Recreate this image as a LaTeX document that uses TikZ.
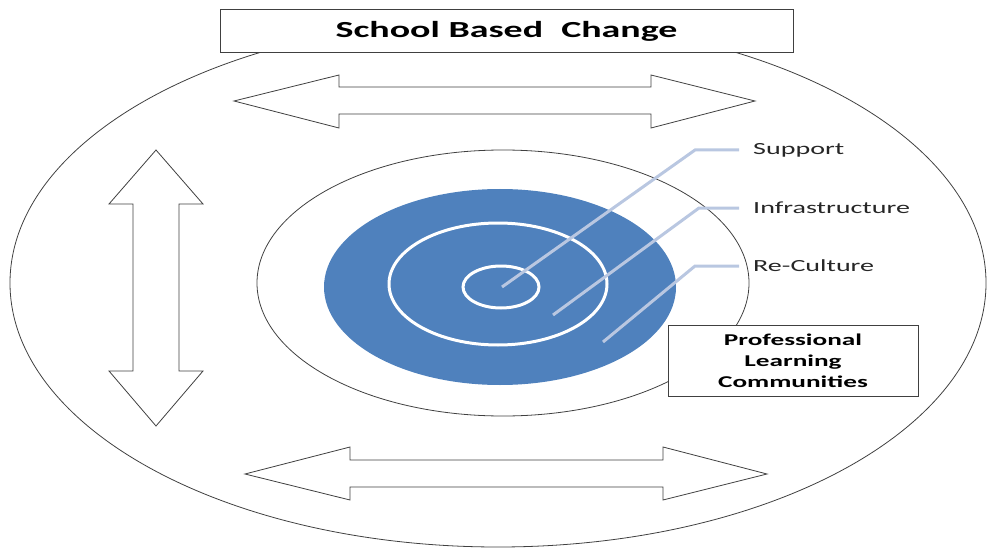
\documentclass[tikz,border=0pt]{standalone}
\usepackage{fontspec}
\setmainfont{Carlito}
\usepackage{tikz}

\definecolor{ringblue}{RGB}{79,129,189}
\definecolor{leadblue}{RGB}{185,199,225}
\definecolor{edgegray}{RGB}{64,64,64}

\newcommand{\widetext}[1]{\scalebox{1.65}[1]{#1}}

\tikzset{
  boxnode/.style={draw=edgegray, line width=1pt, fill=white, inner sep=0pt, align=center},
  fatarrow/.style={draw=edgegray, line width=0.8pt, fill=white, line join=miter},
  leader/.style={draw=leadblue, line width=3pt},
  ringlabel/.style={anchor=west, inner xsep=14pt, inner ysep=0pt, font=\fontsize{17}{20}\selectfont, text=black!85}
}

\begin{document}
\begin{tikzpicture}[x=1pt, y=-1pt]
        \useasboundingbox (0,0) rectangle (987,548);

        % outer ring
        \draw[edgegray, line width=0.8pt] (498,283) ellipse [x radius=488pt, y radius=264pt];

        % title
        \node[boxnode, minimum width=573pt, minimum height=43pt, font={\fontsize{23}{28}\selectfont\bfseries}] (title) at (506.5,31.5) {\widetext{School Based\hspace{0.25em} Change}};

        % arrows
        \draw[fatarrow] (234,101) -- (339,75) -- (339,87) -- (651,87) -- (651,75) -- (755,101)
            -- (651,128) -- (651,114) -- (339,114) -- (339,128) -- cycle;
        \draw[fatarrow] (245,474) -- (350,447) -- (350,460) -- (663,460) -- (663,447) -- (767,474)
            -- (663,500) -- (663,487) -- (350,487) -- (350,500) -- cycle;
        \draw[fatarrow] (156,150) -- (203,204) -- (179,204) -- (179,371) -- (203,371) -- (156,426)
            -- (109,371) -- (133,371) -- (133,204) -- (109,204) -- cycle;

        % inner ring and target
        \draw[edgegray, line width=0.8pt] (503,283) ellipse [x radius=246pt, y radius=133pt];
        \fill[ringblue] (500,287) ellipse [x radius=176pt, y radius=98pt];
        \draw[white, line width=3pt] (498,284) ellipse [x radius=109pt, y radius=61pt];
        \draw[white, line width=3pt] (501,287) ellipse [x radius=38pt, y radius=21pt];

        % labels
        \node[ringlabel] (support) at (739,150) {\widetext{Support}};
        \node[ringlabel] (infra) at (739,208) {\widetext{Infrastructure}};
        \node[ringlabel] (recult) at (739,266) {\widetext{Re-Culture}};

        \coordinate (supportpt) at (502,287);
        \coordinate (infrapt) at (553,315);
        \coordinate (recultpt) at (603,342);

        \draw[leader] (supportpt) -- (695,150) -- (support.west);
        \draw[leader] (infrapt) -- (699,208) -- (infra.west);
        \draw[leader] (recultpt) -- (695,266) -- (recult.west);

        % box
        \node[boxnode, minimum width=250pt, minimum height=71pt, font={\fontsize{16.5}{21}\selectfont\bfseries}] (plc) at (793,360.5)
            {\widetext{Professional}\\\widetext{Learning}\\\widetext{Communities}};
    \end{tikzpicture}
\end{document}
